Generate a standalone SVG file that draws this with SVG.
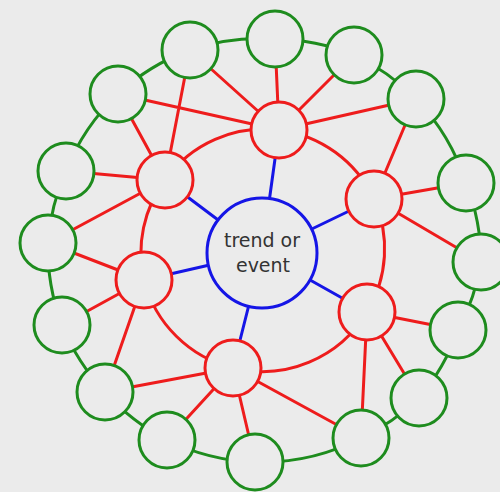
<svg xmlns="http://www.w3.org/2000/svg" width="500" height="492" viewBox="0 0 500 492">
<style>
.bg{fill:#ebebeb}
.g{fill:#ebebeb;stroke:#1e8c1e;stroke-width:3}
.r{fill:#ebebeb;stroke:#ee1c1c;stroke-width:3}
.b{fill:#ebebeb;stroke:#1515e6;stroke-width:3}
.eg{fill:none;stroke:#1e8c1e;stroke-width:3}
.er{fill:none;stroke:#ee1c1c;stroke-width:3}
.eb{fill:none;stroke:#1515e6;stroke-width:3}
text{font-family:"DejaVu Sans",Verdana,sans-serif;font-size:19px;fill:#333;text-anchor:middle}
</style>
<rect class="bg" width="500" height="492"/>
<g id="connectors">
  <!-- outer green ring -->
  <path class="eg" d="M275,39 A214,214 0 0 1 354,55 A214,214 0 0 1 416,99 A214,214 0 0 1 466,183 A214,214 0 0 1 481,262 A214,214 0 0 1 458,330 A214,214 0 0 1 419,398 A214,214 0 0 1 361,438 A214,214 0 0 1 255,462 A214,214 0 0 1 167,440 A214,214 0 0 1 105,392 A214,214 0 0 1 62,325 A214,214 0 0 1 48,243 A214,214 0 0 1 66,171 A214,214 0 0 1 118,94 A214,214 0 0 1 190,50 A214,214 0 0 1 275,39"/>
  <!-- red ring -->
  <path class="er" d="M279,130 A122,122 0 0 1 374,199 A122,122 0 0 1 367,312 A122,122 0 0 1 233,368 A122,122 0 0 1 144,280 A122,122 0 0 1 165,180 A122,122 0 0 1 279,130"/>
  <!-- red spokes -->
  <path class="er" d="M165,180L118,94M165,180L190,50M165,180L66,171M165,180L48,243
M279,130L118,94M279,130L190,50M279,130L275,39M279,130L354,55M279,130L416,99
M374,199L416,99M374,199L466,183M374,199L481,262
M367,312L458,330M367,312L419,398M367,312L361,438
M233,368L105,392M233,368L167,440M233,368L255,462M233,368L361,438
M144,280L48,243M144,280L62,325M144,280L105,392"/>
  <!-- blue spokes -->
  <path class="eb" d="M262,253L279,130M262,253L374,199M262,253L367,312M262,253L233,368M262,253L144,280M262,253L165,180"/>
</g>
<g id="center"><circle class="b" cx="262" cy="253" r="55"/><text x="262" y="247">trend or</text><text x="263" y="272">event</text></g>
<g id="r1"><circle class="r" cx="279" cy="130" r="28"/></g>
<g id="r2"><circle class="r" cx="374" cy="199" r="28"/></g>
<g id="r3"><circle class="r" cx="367" cy="312" r="28"/></g>
<g id="r4"><circle class="r" cx="233" cy="368" r="28"/></g>
<g id="r5"><circle class="r" cx="144" cy="280" r="28"/></g>
<g id="r6"><circle class="r" cx="165" cy="180" r="28"/></g>
<g id="g1"><circle class="g" cx="190" cy="50" r="28"/></g>
<g id="g2"><circle class="g" cx="275" cy="39" r="28"/></g>
<g id="g3"><circle class="g" cx="354" cy="55" r="28"/></g>
<g id="g4"><circle class="g" cx="416" cy="99" r="28"/></g>
<g id="g5"><circle class="g" cx="466" cy="183" r="28"/></g>
<g id="g6"><circle class="g" cx="481" cy="262" r="28"/></g>
<g id="g7"><circle class="g" cx="458" cy="330" r="28"/></g>
<g id="g8"><circle class="g" cx="419" cy="398" r="28"/></g>
<g id="g9"><circle class="g" cx="361" cy="438" r="28"/></g>
<g id="g10"><circle class="g" cx="255" cy="462" r="28"/></g>
<g id="g11"><circle class="g" cx="167" cy="440" r="28"/></g>
<g id="g12"><circle class="g" cx="105" cy="392" r="28"/></g>
<g id="g13"><circle class="g" cx="62" cy="325" r="28"/></g>
<g id="g14"><circle class="g" cx="48" cy="243" r="28"/></g>
<g id="g15"><circle class="g" cx="66" cy="171" r="28"/></g>
<g id="g16"><circle class="g" cx="118" cy="94" r="28"/></g>
</svg>
